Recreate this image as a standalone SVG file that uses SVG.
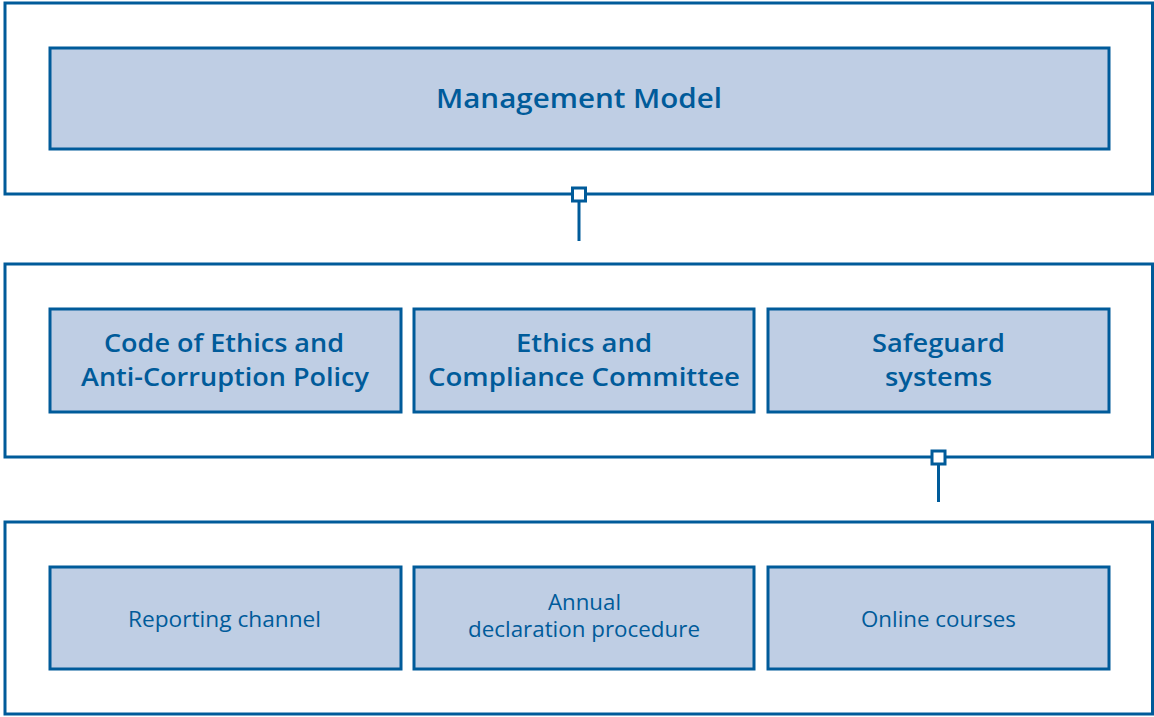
<svg xmlns="http://www.w3.org/2000/svg" width="1154" height="717" viewBox="0 0 1154 717">
<style>
.outer{fill:#ffffff;stroke:#005b9a;stroke-width:3}
.box{fill:#bfcee4;stroke:#005b9a;stroke-width:3}
.t0{font-family:"Open Sans","Liberation Sans",sans-serif;font-weight:600;font-size:27px;fill:#005b9a;text-anchor:middle}
.t1{font-family:"Open Sans","Liberation Sans",sans-serif;font-weight:600;font-size:25px;fill:#005b9a;text-anchor:middle}
.t2{font-family:"Open Sans","Liberation Sans",sans-serif;font-weight:400;font-size:21px;fill:#005b9a;text-anchor:middle}
.conn{stroke:#005b9a;stroke-width:3;fill:none}
.sq{fill:#ffffff;stroke:#005b9a;stroke-width:3}
</style>
<g id="tier1">
<rect class="outer" x="5" y="3" width="1147.5" height="191"/>
</g>
<g id="management-model">
<rect class="box" x="50" y="48" width="1059" height="101"/>
<text class="t0" x="579" y="108" textLength="286" lengthAdjust="spacingAndGlyphs">Management Model</text>
</g>
<g id="tier2">
<rect class="outer" x="5" y="264" width="1147.5" height="193"/>
</g>
<g id="code-of-ethics">
<rect class="box" x="50" y="309" width="351" height="103"/>
<text class="t1" x="224" y="352" textLength="240" lengthAdjust="spacingAndGlyphs">Code of Ethics and</text>
<text class="t1" x="225" y="386" textLength="288" lengthAdjust="spacingAndGlyphs">Anti-Corruption Policy</text>
</g>
<g id="committee">
<rect class="box" x="414" y="309" width="340" height="103"/>
<text class="t1" x="584" y="352" textLength="136" lengthAdjust="spacingAndGlyphs">Ethics and</text>
<text class="t1" x="584" y="386" textLength="312" lengthAdjust="spacingAndGlyphs">Compliance Committee</text>
</g>
<g id="safeguard">
<rect class="box" x="768" y="309" width="341" height="103"/>
<text class="t1" x="938.5" y="352" textLength="133" lengthAdjust="spacingAndGlyphs">Safeguard</text>
<text class="t1" x="938.5" y="386" textLength="107" lengthAdjust="spacingAndGlyphs">systems</text>
</g>
<g id="tier3">
<rect class="outer" x="5" y="522" width="1147.5" height="192"/>
</g>
<g id="reporting-channel">
<rect class="box" x="50" y="567" width="351" height="102"/>
<text class="t2" x="224.5" y="627" textLength="193" lengthAdjust="spacingAndGlyphs">Reporting channel</text>
</g>
<g id="annual-declaration">
<rect class="box" x="414" y="567" width="340" height="102"/>
<text class="t2" x="584.5" y="610" textLength="73" lengthAdjust="spacingAndGlyphs">Annual</text>
<text class="t2" x="584" y="637" textLength="232" lengthAdjust="spacingAndGlyphs">declaration procedure</text>
</g>
<g id="online-courses">
<rect class="box" x="768" y="567" width="341" height="102"/>
<text class="t2" x="938.5" y="627" textLength="155" lengthAdjust="spacingAndGlyphs">Online courses</text>
</g>
<g id="connectors">
<line class="conn" x1="579" y1="201" x2="579" y2="241"/>
<rect class="sq" x="572.5" y="188" width="13" height="13"/>
<line class="conn" x1="938.5" y1="464" x2="938.5" y2="502"/>
<rect class="sq" x="932" y="451" width="13" height="13"/>
</g>
</svg>
